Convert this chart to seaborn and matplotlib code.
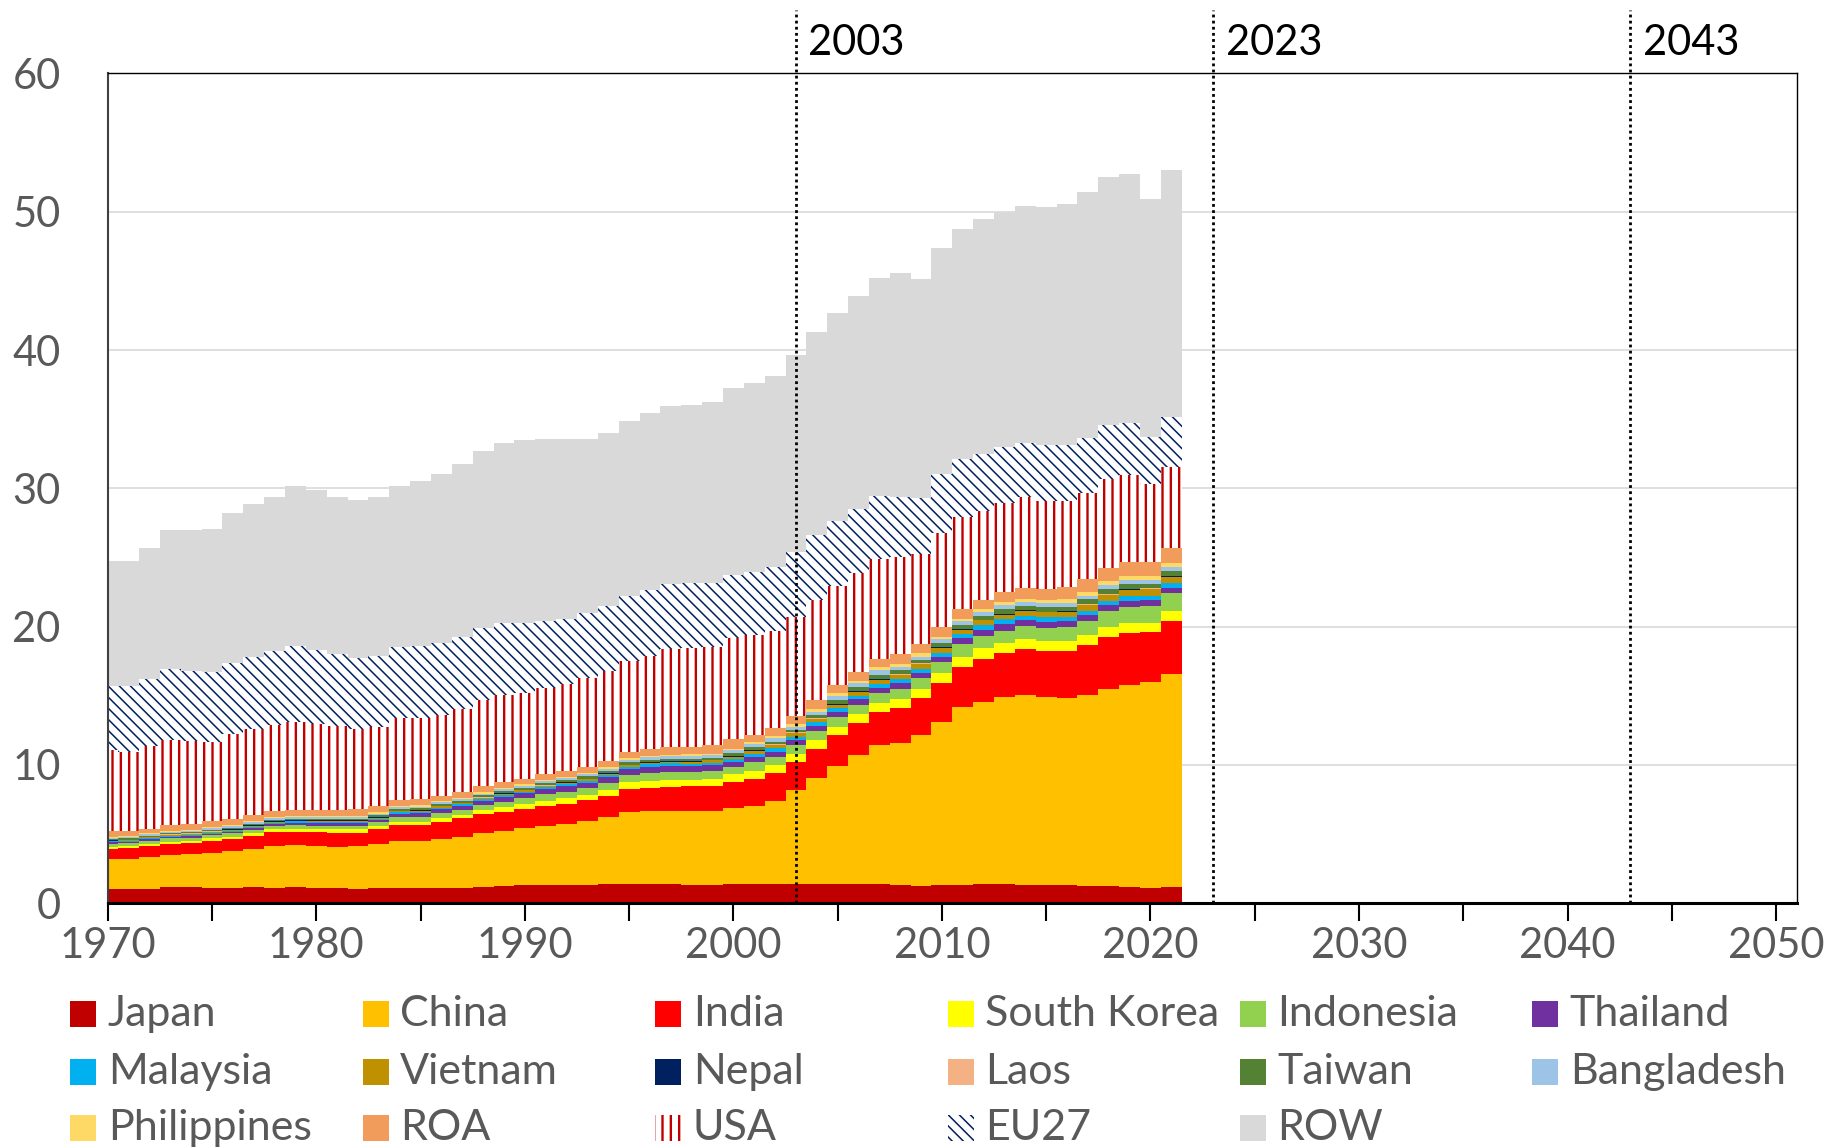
import pandas as pd
import numpy as np
import seaborn as sns
import matplotlib.pyplot as plt
from matplotlib.colors import to_hex
from matplotlib.patches import Rectangle
from matplotlib.transforms import blended_transform_factory

# ---- data (Gt per year) ----
years = list(range(1970, 2022))

japan = [1.00, 1.00, 1.03, 1.15, 1.15, 1.13, 1.13, 1.17, 1.13, 1.17,
         1.13, 1.08, 1.05, 1.10, 1.13, 1.13, 1.13, 1.13, 1.19, 1.24,
         1.32, 1.32, 1.32, 1.32, 1.39, 1.41, 1.41, 1.39, 1.34, 1.32,
         1.37, 1.37, 1.39, 1.39, 1.39, 1.39, 1.39, 1.39, 1.32, 1.25,
         1.32, 1.32, 1.39, 1.39, 1.34, 1.29, 1.29, 1.27, 1.25, 1.20,
         1.12, 1.14]
china = [2.17, 2.20, 2.29, 2.34, 2.38, 2.52, 2.62, 2.77, 3.01, 3.04,
         3.01, 3.01, 3.09, 3.16, 3.37, 3.37, 3.51, 3.68, 3.89, 4.00,
         4.09, 4.26, 4.38, 4.62, 4.82, 5.21, 5.23, 5.28, 5.33, 5.35,
         5.49, 5.68, 6.02, 6.80, 7.69, 8.55, 9.33, 10.05, 10.24, 10.91,
         11.78, 12.84, 13.16, 13.52, 13.71, 13.60, 13.52, 13.78, 14.26, 14.60,
         14.90, 15.43]
india = [0.77, 0.76, 0.82, 0.79, 0.80, 0.85, 0.89, 0.92, 0.99, 0.96,
         0.99, 1.01, 0.96, 1.08, 1.15, 1.15, 1.25, 1.33, 1.37, 1.38,
         1.40, 1.45, 1.47, 1.52, 1.54, 1.64, 1.71, 1.73, 1.80, 1.80,
         1.93, 1.93, 1.98, 2.02, 2.09, 2.22, 2.28, 2.41, 2.58, 2.70,
         2.84, 2.94, 3.13, 3.20, 3.33, 3.35, 3.43, 3.60, 3.74, 3.74,
         3.57, 3.83]
s_korea = [0.15, 0.18, 0.14, 0.17, 0.17, 0.19, 0.17, 0.19, 0.21, 0.22,
           0.21, 0.24, 0.24, 0.24, 0.24, 0.24, 0.25, 0.24, 0.29, 0.31,
           0.36, 0.36, 0.41, 0.36, 0.44, 0.48, 0.49, 0.51, 0.47, 0.53,
           0.55, 0.58, 0.60, 0.58, 0.63, 0.59, 0.66, 0.60, 0.62, 0.63,
           0.68, 0.72, 0.75, 0.68, 0.70, 0.72, 0.72, 0.74, 0.74, 0.72,
           0.69, 0.73]
indonesia = [0.17, 0.19, 0.22, 0.24, 0.24, 0.22, 0.24, 0.24, 0.24, 0.26,
             0.26, 0.26, 0.26, 0.27, 0.32, 0.32, 0.36, 0.36, 0.36, 0.41,
             0.41, 0.48, 0.48, 0.49, 0.48, 0.53, 0.55, 0.58, 0.55, 0.55,
             0.53, 0.63, 0.60, 0.65, 0.67, 0.72, 0.67, 0.73, 0.73, 0.77,
             0.81, 0.90, 0.89, 0.91, 0.99, 0.96, 0.98, 1.01, 1.14, 1.14,
             1.21, 1.27]
thailand = [0.14, 0.12, 0.14, 0.12, 0.14, 0.12, 0.12, 0.17, 0.17, 0.17,
            0.20, 0.20, 0.20, 0.17, 0.26, 0.29, 0.31, 0.29, 0.31, 0.36,
            0.37, 0.37, 0.41, 0.40, 0.43, 0.43, 0.48, 0.45, 0.41, 0.41,
            0.36, 0.40, 0.36, 0.36, 0.37, 0.36, 0.41, 0.40, 0.41, 0.41,
            0.39, 0.43, 0.43, 0.49, 0.41, 0.44, 0.46, 0.44, 0.41, 0.47,
            0.43, 0.41]
malaysia = [0.06, 0.06, 0.06, 0.07, 0.07, 0.07, 0.08, 0.08, 0.08, 0.09,
            0.09, 0.09, 0.09, 0.10, 0.10, 0.10, 0.10, 0.11, 0.11, 0.12,
            0.12, 0.13, 0.13, 0.14, 0.14, 0.15, 0.16, 0.16, 0.17, 0.20,
            0.20, 0.22, 0.25, 0.24, 0.24, 0.26, 0.26, 0.30, 0.29, 0.26,
            0.29, 0.31, 0.34, 0.34, 0.31, 0.31, 0.30, 0.31, 0.33, 0.35,
            0.30, 0.32]
vietnam = [0.05, 0.05, 0.05, 0.05, 0.05, 0.06, 0.06, 0.06, 0.06, 0.06,
           0.07, 0.07, 0.07, 0.07, 0.08, 0.08, 0.08, 0.09, 0.09, 0.10,
           0.10, 0.11, 0.11, 0.12, 0.12, 0.13, 0.14, 0.14, 0.15, 0.16,
           0.16, 0.22, 0.24, 0.24, 0.24, 0.27, 0.29, 0.29, 0.31, 0.34,
           0.36, 0.31, 0.35, 0.33, 0.36, 0.36, 0.38, 0.41, 0.41, 0.46,
           0.48, 0.48]
nepal = [0.02, 0.02, 0.02, 0.02, 0.02, 0.02, 0.02, 0.02, 0.02, 0.02,
         0.02, 0.02, 0.02, 0.02, 0.02, 0.02, 0.02, 0.02, 0.02, 0.02,
         0.02, 0.02, 0.02, 0.02, 0.02, 0.02, 0.03, 0.03, 0.03, 0.03,
         0.03, 0.03, 0.03, 0.03, 0.03, 0.03, 0.03, 0.03, 0.03, 0.03,
         0.03, 0.03, 0.03, 0.03, 0.03, 0.03, 0.03, 0.03, 0.03, 0.03,
         0.03, 0.03]
laos = [0.02, 0.02, 0.02, 0.02, 0.02, 0.02, 0.02, 0.02, 0.02, 0.02,
        0.02, 0.02, 0.02, 0.02, 0.02, 0.02, 0.02, 0.02, 0.02, 0.02,
        0.02, 0.02, 0.02, 0.02, 0.02, 0.02, 0.02, 0.02, 0.02, 0.02,
        0.02, 0.03, 0.03, 0.03, 0.03, 0.03, 0.03, 0.03, 0.03, 0.03,
        0.03, 0.03, 0.03, 0.03, 0.03, 0.03, 0.03, 0.03, 0.03, 0.03,
        0.03, 0.03]
taiwan = [0.08, 0.08, 0.08, 0.09, 0.09, 0.10, 0.10, 0.10, 0.10, 0.11,
          0.11, 0.11, 0.12, 0.12, 0.12, 0.13, 0.13, 0.13, 0.14, 0.14,
          0.14, 0.15, 0.15, 0.16, 0.16, 0.16, 0.16, 0.16, 0.16, 0.15,
          0.20, 0.17, 0.18, 0.18, 0.23, 0.30, 0.30, 0.30, 0.30, 0.27,
          0.31, 0.30, 0.26, 0.36, 0.30, 0.31, 0.30, 0.35, 0.36, 0.32,
          0.34, 0.35]
bangladesh = [0.10, 0.10, 0.10, 0.11, 0.11, 0.11, 0.11, 0.11, 0.11, 0.11,
              0.12, 0.12, 0.12, 0.12, 0.12, 0.12, 0.12, 0.13, 0.13, 0.13,
              0.13, 0.14, 0.14, 0.15, 0.15, 0.16, 0.16, 0.17, 0.19, 0.17,
              0.21, 0.22, 0.24, 0.24, 0.24, 0.29, 0.25, 0.31, 0.24, 0.23,
              0.24, 0.25, 0.29, 0.27, 0.25, 0.28, 0.28, 0.24, 0.30, 0.29,
              0.27, 0.31]
philippines = [0.08, 0.08, 0.08, 0.08, 0.08, 0.09, 0.09, 0.09, 0.09, 0.09,
               0.09, 0.09, 0.09, 0.10, 0.10, 0.10, 0.10, 0.10, 0.10, 0.10,
               0.11, 0.11, 0.11, 0.11, 0.12, 0.12, 0.12, 0.12, 0.13, 0.12,
               0.12, 0.14, 0.17, 0.20, 0.19, 0.20, 0.19, 0.24, 0.20, 0.25,
               0.19, 0.19, 0.24, 0.24, 0.24, 0.24, 0.25, 0.29, 0.32, 0.29,
               0.29, 0.29]
roa = [0.39, 0.39, 0.34, 0.40, 0.38, 0.44, 0.44, 0.44, 0.44, 0.44,
       0.42, 0.42, 0.48, 0.48, 0.43, 0.46, 0.39, 0.39, 0.45, 0.41,
       0.39, 0.40, 0.39, 0.44, 0.47, 0.45, 0.47, 0.53, 0.55, 0.60,
       0.68, 0.52, 0.56, 0.60, 0.65, 0.58, 0.63, 0.58, 0.70, 0.66,
       0.72, 0.73, 0.66, 0.68, 0.81, 0.82, 0.89, 0.94, 0.92, 1.01,
       1.01, 1.04]
usa = [5.88, 5.71, 5.98, 6.15, 6.03, 5.74, 6.12, 6.22, 6.22, 6.32,
       6.19, 6.07, 5.79, 5.72, 5.91, 5.88, 5.83, 6.00, 6.22, 6.31,
       6.24, 6.22, 6.31, 6.44, 6.51, 6.60, 6.74, 7.13, 7.16, 7.11,
       7.30, 7.25, 7.06, 7.11, 7.23, 7.18, 7.18, 7.21, 7.06, 6.51,
       6.75, 6.60, 6.43, 6.49, 6.59, 6.36, 6.24, 6.19, 6.41, 6.29,
       5.64, 5.86]
eu27 = [4.63, 4.75, 4.87, 5.13, 5.08, 5.06, 5.16, 5.20, 5.35, 5.50,
        5.38, 5.19, 5.10, 5.10, 5.13, 5.19, 5.19, 5.20, 5.18, 5.19,
        5.02, 4.89, 4.70, 4.65, 4.68, 4.70, 4.78, 4.70, 4.70, 4.63,
        4.58, 4.58, 4.62, 4.70, 4.70, 4.70, 4.58, 4.60, 4.34, 4.05,
        4.29, 4.20, 4.10, 4.00, 3.85, 4.03, 4.03, 4.03, 3.93, 3.76,
        3.42, 3.61]
row = [9.03, 9.03, 9.46, 10.07, 10.19, 10.31, 10.82, 11.06, 11.16, 11.59,
       11.57, 11.37, 11.45, 11.48, 11.64, 11.90, 12.21, 12.54, 12.83, 13.06,
       13.23, 13.13, 12.98, 12.64, 12.48, 12.63, 12.82, 12.87, 12.87, 13.11,
       13.55, 13.63, 13.77, 14.27, 14.70, 15.03, 15.42, 15.76, 16.14, 15.86,
       16.37, 16.67, 16.97, 17.04, 17.20, 17.22, 17.42, 17.74, 17.92, 18.00,
       17.17, 17.87]

regions = ['Japan', 'China', 'India', 'South Korea', 'Indonesia', 'Thailand',
           'Malaysia', 'Vietnam', 'Nepal', 'Laos', 'Taiwan', 'Bangladesh',
           'Philippines', 'ROA', 'USA', 'EU27', 'ROW']
series = [japan, china, india, s_korea, indonesia, thailand, malaysia, vietnam,
          nepal, laos, taiwan, bangladesh, philippines, roa, usa, eu27, row]
colors = ['#C00000', '#FFC000', '#FF0000', '#FFFF00', '#92D050', '#7030A0',
          '#00B0F0', '#BF9000', '#002060', '#F4B183', '#548235', '#9DC3E6',
          '#FFD966', '#F19C5B', '#FFFFFF', '#FFFFFF', '#D9D9D9']
# hatched regions: (hatch, hatch colour, hatch line width)
hatches = {'USA': ('||', '#C00000', 1.7), 'EU27': ('\\\\\\', '#002060', 1.1)}
markers = [2003, 2023, 2043]

# 長い形式のデータフレームにする
df = pd.DataFrame({
    'year': np.repeat(years, len(regions)),
    'region': regions * len(years),
    'value': np.array(series).T.ravel(),
})

# USA / EU27 get placeholder colours so their bars can be found afterwards
draw_colors = dict(zip(regions, colors))
draw_colors['USA'] = '#010203'
draw_colors['EU27'] = '#030201'
placeholder = {'#010203': 'USA', '#030201': 'EU27'}

sns.set_style('white')
plt.rcParams['font.family'] = ['Lato', 'DejaVu Sans']
plt.rcParams['hatch.linewidth'] = 1.5

fig = plt.figure(figsize=(18.46, 11.48), dpi=100)
ax = fig.add_axes([0.0584, 0.2133, 0.915, 0.7227])

# first hue level ends up on top of the stack, so reverse the order
sns.histplot(data=df, x='year', weights='value', hue='region',
             hue_order=regions[::-1], multiple='stack', discrete=True,
             shrink=1, palette=draw_colors, alpha=1, linewidth=0,
             edgecolor='none', legend=False, ax=ax)

for p in ax.patches:
    name = placeholder.get(to_hex(p.get_facecolor()))
    if name:
        h, hc, hlw = hatches[name]
        p.set_facecolor('white')
        p.set_edgecolor(hc)
        p.set_hatch(h)
        if hasattr(p, 'set_hatch_linewidth'):
            p.set_hatch_linewidth(hlw)

ax.set_xlim(1970, 2051)
ax.set_ylim(0, 60)
ax.set_xlabel('')
ax.set_ylabel('')
ax.set_axisbelow(True)
ax.yaxis.grid(True, color='#D9D9D9', linewidth=1.2)
ax.xaxis.grid(False)

ax.set_yticks(range(0, 61, 10))
xt = list(range(1970, 2051, 5))
ax.set_xticks(xt)
ax.set_xticklabels([str(t) if t % 10 == 0 else '' for t in xt])
ax.tick_params(axis='y', length=0, pad=34, labelsize=30, labelcolor='#595959')
ax.tick_params(axis='x', direction='out', length=13, width=1.5, color='black',
               pad=4, labelsize=30, labelcolor='#595959', bottom=True)

for side in ['top', 'right']:
    ax.spines[side].set_color('black')
    ax.spines[side].set_linewidth(1.0)
ax.spines['left'].set_color('#404040')
ax.spines['left'].set_linewidth(1.5)
ax.spines['bottom'].set_color('black')
ax.spines['bottom'].set_linewidth(2.2)

# 区切りの年（点線）
trans = blended_transform_factory(ax.transData, ax.transAxes)
for m in markers:
    ax.axvline(m, ymin=0, ymax=1.077, color='black', linestyle=(0, (1, 1.2)),
               linewidth=2.0, clip_on=False, zorder=5)
    ax.text(m + 0.6, 1.037, str(m), transform=trans, ha='left', va='center',
            fontsize=30, color='black')

# legend drawn as a uniform 6-column grid (like the original)
col_x0, col_step = 0.0381, 0.1584
row_y = [0.117, 0.066, 0.017]
pw, ph = 26 / 1846, 26 / 1148
for i, name in enumerate(regions):
    r, c = divmod(i, 6)
    x0 = col_x0 + c * col_step
    y0 = row_y[r]
    if name in hatches:
        h, hc, hlw = hatches[name]
        rect = Rectangle((x0, y0 - ph / 2), pw, ph, transform=fig.transFigure,
                         facecolor='white', edgecolor=hc, hatch=h, linewidth=0)
        if hasattr(rect, 'set_hatch_linewidth'):
            rect.set_hatch_linewidth(hlw)
    else:
        rect = Rectangle((x0, y0 - ph / 2), pw, ph, transform=fig.transFigure,
                         facecolor=colors[i], edgecolor='none', linewidth=0)
    fig.add_artist(rect)
    fig.text(x0 + 37.5 / 1846, y0, name, ha='left', va='center',
             fontsize=31, color='#595959')

fig.savefig('out.png', dpi=100)
